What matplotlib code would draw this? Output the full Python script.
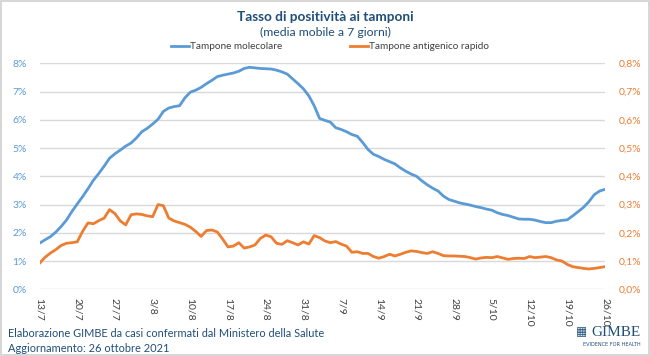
import matplotlib
matplotlib.use("Agg")
import matplotlib.pyplot as plt
from matplotlib.patches import Rectangle
from matplotlib.ticker import FuncFormatter
import numpy as np
import pandas as pd

# 7-day moving average positivity, daily from 13/7 to 26/10/2021
start_date = "2021-07-13"
end_date = "2021-10-26"

molecolare = [
    1.63, 1.75, 1.86, 2.02, 2.22, 2.45, 2.75, 3.02, 3.28, 3.56,
    3.86, 4.10, 4.36, 4.64, 4.80, 4.93, 5.07, 5.18, 5.36, 5.58,
    5.70, 5.85, 6.02, 6.30, 6.42, 6.47, 6.50, 6.78, 6.98, 7.05,
    7.15, 7.28, 7.40, 7.53, 7.58, 7.62, 7.66, 7.72, 7.82, 7.86,
    7.84, 7.82, 7.81, 7.80, 7.76, 7.70, 7.62, 7.45, 7.28, 7.10,
    6.85, 6.50, 6.05, 5.98, 5.92, 5.72, 5.66, 5.58, 5.48, 5.42,
    5.20, 4.95, 4.78, 4.70, 4.60, 4.52, 4.44, 4.30, 4.18, 4.08,
    4.00, 3.84, 3.70, 3.58, 3.48, 3.30, 3.18, 3.12, 3.06, 3.02,
    2.98, 2.93, 2.89, 2.84, 2.80, 2.71, 2.65, 2.61, 2.55, 2.49,
    2.48, 2.48, 2.45, 2.40, 2.36, 2.36, 2.41, 2.44, 2.46, 2.60,
    2.75, 2.90, 3.10, 3.35, 3.48, 3.54,
]

antigenico = [
    0.092, 0.113, 0.128, 0.140, 0.155, 0.163, 0.165, 0.168, 0.205, 0.235,
    0.232, 0.243, 0.252, 0.282, 0.268, 0.242, 0.228, 0.264, 0.267, 0.265,
    0.260, 0.257, 0.300, 0.296, 0.252, 0.242, 0.236, 0.230, 0.220, 0.205,
    0.187, 0.208, 0.210, 0.203, 0.178, 0.150, 0.153, 0.165, 0.146, 0.150,
    0.157, 0.180, 0.192, 0.186, 0.163, 0.159, 0.172, 0.165, 0.157, 0.168,
    0.160, 0.190, 0.183, 0.171, 0.165, 0.169, 0.160, 0.153, 0.131, 0.133,
    0.127, 0.127, 0.116, 0.110, 0.116, 0.124, 0.118, 0.124, 0.131, 0.136,
    0.134, 0.130, 0.127, 0.133, 0.127, 0.119, 0.118, 0.118, 0.117, 0.116,
    0.112, 0.107, 0.111, 0.113, 0.112, 0.116, 0.111, 0.106, 0.109, 0.110,
    0.109, 0.116, 0.112, 0.114, 0.116, 0.112, 0.104, 0.100, 0.088, 0.080,
    0.077, 0.074, 0.072, 0.074, 0.077, 0.080,
]

left_ticks = [0, 1, 2, 3, 4, 5, 6, 7, 8]
right_ticks = [0.0, 0.1, 0.2, 0.3, 0.4, 0.5, 0.6, 0.7, 0.8]

BLUE = "#5B9BD5"
ORANGE = "#ED7D31"
DARK = "#1F4E79"
GRAY = "#404040"
FONT = ["Lato", "DejaVu Sans"]

plt.rcParams["font.family"] = FONT

dates = pd.date_range(start_date, end_date, freq="D")
x = np.arange(len(dates))
tick_pos = x[::7]
tick_labels = [f"{d.day}/{d.month}" for d in dates[::7]]

fig = plt.figure(figsize=(6.5, 3.56), dpi=100)
fig.patches.append(Rectangle((0.0015, 0.0025), 0.997, 0.995, transform=fig.transFigure,
                             fill=False, edgecolor="#D0D0D0", linewidth=1.2))

ax = fig.add_axes([0.0608, 0.1874, 0.8700, 0.6346])
ax2 = ax.twinx()

ax.set_xlim(0, len(x) - 1)
ax.set_ylim(0, 8)
ax2.set_ylim(0, 0.8)

ax.set_yticks(left_ticks)
ax2.set_yticks(right_ticks)
ax.yaxis.set_major_formatter(FuncFormatter(lambda v, p: f"{v:.0f}%"))
ax2.yaxis.set_major_formatter(FuncFormatter(lambda v, p: f"{v:.1f}%".replace(".", ",")))

ax.grid(axis="y", color="#D9D9D9", linewidth=1.0)
ax.set_axisbelow(True)
for a in (ax, ax2):
    for s in a.spines.values():
        s.set_visible(False)

ax.tick_params(axis="y", length=0, labelsize=7.5, labelcolor=BLUE, pad=9)
ax2.tick_params(axis="y", length=0, labelsize=7.5, labelcolor=ORANGE, pad=10)

ax.set_xticks(tick_pos)
ax.set_xticklabels(tick_labels, rotation=270, fontsize=7.5, color=GRAY)
ax.tick_params(axis="x", length=0, pad=6)

l1, = ax.plot(x, molecolare, color=BLUE, linewidth=2.0, label="Tampone molecolare")
l2, = ax2.plot(x, antigenico, color=ORANGE, linewidth=2.0, label="Tampone antigenico rapido")

fig.legend(handles=[l1, l2], loc="center", bbox_to_anchor=(0.508, 0.868), ncol=2,
           frameon=False, fontsize=7.2, handlelength=1.8, handletextpad=0.1,
           columnspacing=6.8, labelcolor=GRAY)

fig.text(0.5, 0.953, "Tasso di positività ai tamponi", ha="center", va="center",
         fontsize=9.8, fontweight="bold", color=DARK)
fig.text(0.5, 0.910, "(media mobile a 7 giorni)", ha="center", va="center",
         fontsize=8.8, color=DARK)

fig.text(0.012, 0.064, "Elaborazione GIMBE da casi confermati dal Ministero della Salute",
         ha="left", va="center", fontsize=7.9, color=DARK)
fig.text(0.012, 0.020, "Aggiornamento: 26 ottobre 2021", ha="left", va="center",
         fontsize=7.9, color=DARK)

# logo
fig.text(0.894, 0.067, "\u25a6", ha="center", va="center", fontsize=8.5, color=DARK,
         family="DejaVu Sans")
fig.text(0.986, 0.067, "GIMBE", ha="right", va="center", fontsize=11,
         color=DARK, family="Liberation Serif")
fig.text(0.986, 0.033, "EVIDENCE FOR HEALTH", ha="right", va="center", fontsize=3.6,
         color=DARK, family="DejaVu Sans")

fig.savefig("out.png", dpi=100)
